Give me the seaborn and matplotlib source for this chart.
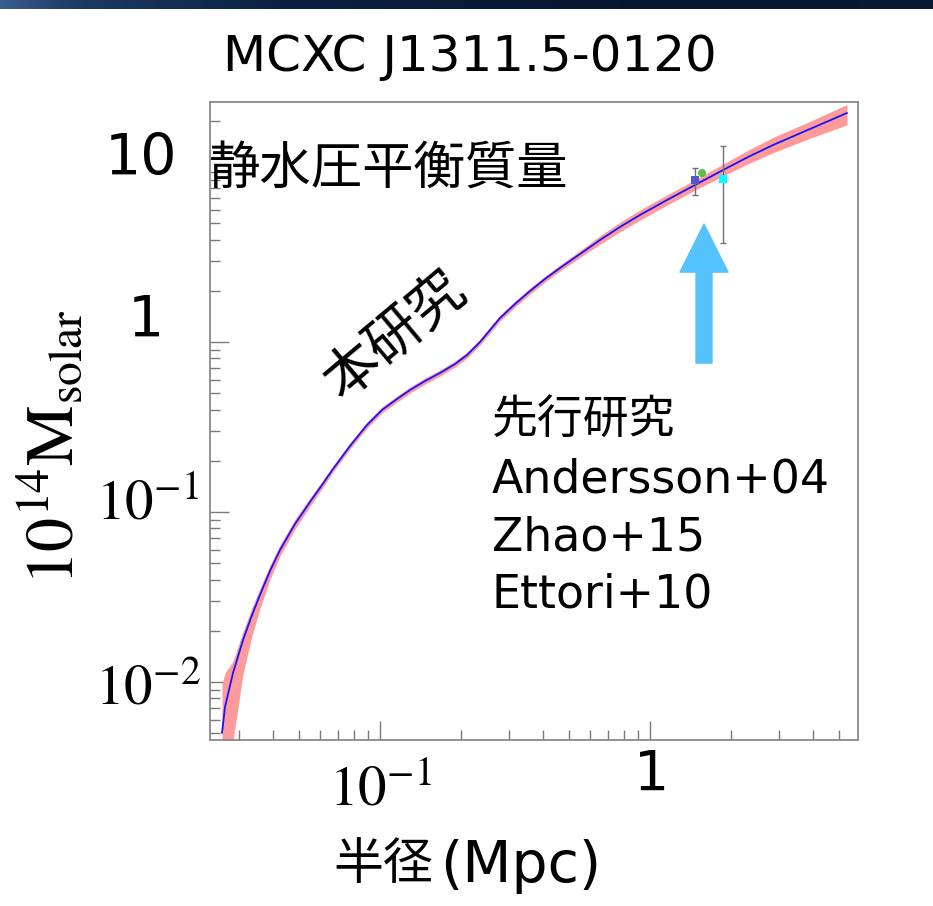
import numpy as np
import pandas as pd
import matplotlib
matplotlib.use("Agg")
import matplotlib.pyplot as plt
import matplotlib.ticker as mticker
import matplotlib.transforms as mtransforms
from matplotlib.colors import LinearSegmentedColormap
import seaborn as sns

# Hydrostatic-equilibrium mass profile of MCXC J1311.5-0120 (this work)
radius_mpc = [0.02600, 0.02667, 0.02855, 0.03110, 0.03358, 0.03594, 0.03914,
              0.04263, 0.04843, 0.05504, 0.06098, 0.06697, 0.07743, 0.08951,
              0.1017, 0.1156, 0.1292, 0.1468, 0.1668, 0.1896, 0.2101,
              0.2347, 0.2556, 0.2783, 0.3162, 0.3594, 0.4084, 0.4642,
              0.5506, 0.6529, 0.7743, 0.9182, 1.156, 1.468, 1.864, 2.307,
              2.855, 3.914, 5.366]
mass_1e14 = [0.005012, 0.007128, 0.01129, 0.01766, 0.02478, 0.03249, 0.04497,
             0.05975, 0.08501, 0.1145, 0.1441, 0.1790, 0.2445, 0.3249,
             0.3981, 0.4621, 0.5221, 0.5897, 0.6574, 0.7423, 0.8387,
             1.000, 1.177, 1.384, 1.673, 1.995, 2.348, 2.725,
             3.294, 3.981, 4.748, 5.586, 6.843, 8.386, 10.27, 12.25,
             14.41, 17.91, 22.24]
# 1-sigma spread of the profile, in dex below / above the best fit
spread_lo_dex = [0.60, 0.50, 0.40, 0.20, 0.12, 0.08, 0.05,
                 0.035, 0.03, 0.025, 0.022, 0.018, 0.018, 0.018,
                 0.018, 0.018, 0.018, 0.018, 0.018, 0.018, 0.018,
                 0.018, 0.018, 0.018, 0.018, 0.018, 0.018, 0.018,
                 0.02, 0.025, 0.028, 0.03, 0.03, 0.03, 0.035, 0.04,
                 0.045, 0.055, 0.07]
spread_hi_dex = [0.29, 0.20, 0.07, 0.05, 0.045, 0.04, 0.035,
                 0.03, 0.028, 0.025, 0.022, 0.018, 0.018, 0.018,
                 0.018, 0.018, 0.018, 0.018, 0.018, 0.018, 0.018,
                 0.018, 0.018, 0.018, 0.018, 0.018, 0.018, 0.018,
                 0.02, 0.025, 0.028, 0.03, 0.03, 0.03, 0.035, 0.04,
                 0.045, 0.045, 0.05]

# Previous measurements
prior_study = ["Andersson+04", "Zhao+15", "Ettori+10"]
prior_radius = [1.468, 1.558, 1.864]
prior_mass = [8.97, 9.86, 9.10]
prior_lo = [7.32, 9.86, 3.82]
prior_hi = [10.56, 9.86, 14.2]
prior_colors = ["#5656cc", "#5cc04a", "#00ffff"]
prior_markers = ["s", "o", "s"]

y_ticks = [0.01, 0.1, 1, 10]
y_ticklabels = ["$10^{-2}$", "$10^{-1}$", "1", "10"]
x_ticks = [0.1, 1]
x_ticklabels = ["$10^{-1}$", "1"]

sns.set_style("white")
plt.rcParams["font.family"] = ["DejaVu Sans", "Noto Sans CJK JP"]
plt.rcParams["mathtext.fontset"] = "stix"
plt.rcParams["text.color"] = "black"
plt.rcParams["axes.labelcolor"] = "black"
plt.rcParams["xtick.color"] = "black"
plt.rcParams["ytick.color"] = "black"

W, H = 933, 906
fig = plt.figure(figsize=(W / 100, H / 100), dpi=100)
fig.patch.set_facecolor("white")


def fx(px):
    return px / W


def fy(py):
    return 1 - py / H


# slide header strip
band_ax = fig.add_axes([0, fy(9), 1, 9 / H])
grad_cmap = LinearSegmentedColormap.from_list(
    "hdr", [(0.0, "#3a5d8f"), (0.08, "#1d3a63"), (0.3, "#0b2140"),
            (0.7, "#06162e"), (1.0, "#0a1a33")])
band_ax.imshow(np.linspace(0, 1, 256)[None, :], aspect="auto", cmap=grad_cmap)
band_ax.set_axis_off()

ax = fig.add_axes([fx(210), fy(740), (858 - 210) / W, (740 - 102) / H])
ax.set_xscale("log")
ax.set_yscale("log")

profile = pd.DataFrame({"radius": radius_mpc, "mass": mass_1e14})
profile["lo"] = profile["mass"] / 10 ** np.asarray(spread_lo_dex)
profile["hi"] = profile["mass"] * 10 ** np.asarray(spread_hi_dex)
ax.fill_between(profile["radius"], profile["lo"], profile["hi"],
                color="#ff9a9a", lw=0, zorder=1)
sns.lineplot(data=profile, x="radius", y="mass", color="#1414ff", lw=1.3,
             estimator=None, sort=False, ax=ax, zorder=3)

prior = pd.DataFrame({"study": prior_study, "radius": prior_radius,
                      "mass": prior_mass, "lo": prior_lo, "hi": prior_hi})
ax.errorbar(prior["radius"], prior["mass"],
            yerr=[prior["mass"] - prior["lo"], prior["hi"] - prior["mass"]],
            fmt="none", ecolor="#707070", elinewidth=1.0, capsize=2.5,
            capthick=1.0, zorder=4)
sns.scatterplot(data=prior, x="radius", y="mass", hue="study", style="study",
                palette=dict(zip(prior_study, prior_colors)),
                markers=dict(zip(prior_study, prior_markers)),
                s=34, edgecolor="none", legend=False, ax=ax, zorder=5)

# arrow pointing to the earlier measurements
ax.annotate("", xy=(1.585, 4.94), xytext=(1.585, 0.752),
            arrowprops=dict(width=11.5, headwidth=34.6, headlength=34.6,
                            color="#55c3ff", shrink=0), zorder=6)

ax.set_xlim(0.02347, 5.893)
ax.set_ylim(0.00456, 25.81)

for sp in ax.spines.values():
    sp.set_color("#8a8a8a")
    sp.set_linewidth(1.3)

ax.tick_params(which="both", direction="in", color="#7a7a7a", width=1.0,
               bottom=True, left=True, top=False, right=False,
               labelcolor="black")
ax.tick_params(which="major", length=13.7)
ax.tick_params(which="minor", length=7.2)
ax.tick_params(axis="y", which="major", pad=45)
ax.tick_params(axis="x", which="major", pad=36)

ax.xaxis.set_minor_locator(mticker.LogLocator(base=10, subs=np.arange(2, 10)))
ax.yaxis.set_minor_locator(mticker.LogLocator(base=10, subs=np.arange(2, 10)))
ax.xaxis.set_minor_formatter(mticker.NullFormatter())
ax.yaxis.set_minor_formatter(mticker.NullFormatter())

ax.set_yticks(y_ticks, labels=y_ticklabels)
ax.set_xticks(x_ticks, labels=x_ticklabels)

y_label_style = [(41, 0, -7), (41, 0, 8), (41, -2, 21), (41, -7, 13)]
for lab, (size, dx, dy) in zip(ax.get_yticklabels(), y_label_style):
    lab.set_fontsize(size)
    lab.set_ha("center")
    lab.set_va("center")
    lab.set_transform(lab.get_transform() + mtransforms.ScaledTranslation(
        dx / 100, dy / 100, fig.dpi_scale_trans))

x_label_style = [(41, 0, 0), (40, 2, 15)]
for lab, (size, dx, dy) in zip(ax.get_xticklabels(), x_label_style):
    lab.set_fontsize(size)
    lab.set_ha("center")
    lab.set_va("center")
    lab.set_transform(lab.get_transform() + mtransforms.ScaledTranslation(
        dx / 100, dy / 100, fig.dpi_scale_trans))

ax.set_xlabel("")
ax.set_ylabel(r"$10^{14}\mathrm{M}_{\mathrm{solar}}$", fontsize=49, va="center")
ax.yaxis.set_label_coords((52 - 210) / 648, (740 - 447) / 638)

# axis title below
fig.text(fx(333), fy(865), "半径", ha="left", va="center", fontsize=36,
         family="Noto Sans CJK JP")
fig.text(fx(440), fy(866), "(Mpc)", ha="left", va="center", fontsize=41,
         family="DejaVu Sans")

fig.text(fx(470), fy(57), "MCXC J1311.5-0120", ha="center", va="center",
         fontsize=36, family="DejaVu Sans")

fig.text(fx(209), fy(170), "静水圧平衡質量", ha="left", va="center",
         fontsize=37, family="Noto Sans CJK JP")
fig.text(fx(395), fy(336), "本研究", ha="center", va="center", rotation=40,
         rotation_mode="anchor", fontsize=40, family="Noto Sans CJK JP")

prior_lines = ["先行研究"] + prior_study
for txt, py in zip(prior_lines, [420, 480, 538, 595]):
    fig.text(fx(492), fy(py), txt, ha="left", va="center", fontsize=33,
             family=["DejaVu Sans", "Noto Sans CJK JP"])

fig.savefig("out.png", dpi=100)
